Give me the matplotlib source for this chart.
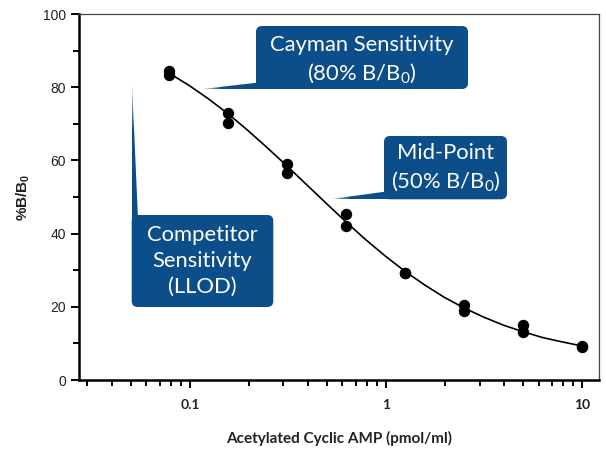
import numpy as np
import matplotlib
matplotlib.use("Agg")
import matplotlib.pyplot as plt
from matplotlib.patches import Polygon, FancyBboxPatch, Rectangle
from matplotlib.ticker import FixedLocator, NullFormatter

plt.rcParams["font.family"] = ["Lato", "DejaVu Sans"]
plt.rcParams["mathtext.default"] = "regular"

# standard curve (pmol/ml) - duplicate wells
conc = [0.078, 0.078, 0.156, 0.156, 0.3125, 0.3125, 0.625, 0.625,
        1.25, 1.25, 2.5, 2.5, 5, 5, 10, 10]
pct_bound = [84.5, 83.4, 73.0, 70.2, 59.0, 56.6, 45.4, 42.2,
             29.3, 29.2, 20.5, 18.8, 15.0, 13.1, 9.4, 9.0]

# fitted curve (third-octave steps)
fit_conc = [0.078, 0.0983, 0.1238, 0.156, 0.1965, 0.2476, 0.3125, 0.3931,
            0.4953, 0.625, 0.7862, 0.9906, 1.25, 1.572, 1.981, 2.5,
            3.145, 3.962, 5, 6.29, 7.925, 10]
fit_pct = [83.9, 80.6, 76.9, 72.8, 68.3, 63.5, 58.5, 53.4,
           48.3, 43.2, 38.4, 33.9, 29.7, 26.0, 22.6, 19.7,
           17.2, 15.0, 13.2, 11.6, 10.4, 9.3]

y_ticks = [0, 20, 40, 60, 80, 100]
x_ticks = [0.1, 1, 10]
x_ticklabels = ["0.1", "1", "10"]

BLUE = "#0c4e8a"
W, H = 606, 449

fig = plt.figure(figsize=(W / 100, H / 100), dpi=100)
ax = fig.add_axes([79 / W, 1 - 380 / H, 520 / W, 366 / H])

ax.plot(fit_conc, fit_pct, color="black", lw=1.2, zorder=3)
ax.plot(conc, pct_bound, "o", color="black", ms=7.2, zorder=4)

ax.set_xscale("log")
ax.set_xlim(0.0272, 12.2)
ax.set_ylim(0, 100)

ax.xaxis.set_major_locator(FixedLocator(x_ticks))
ax.set_xticklabels(x_ticklabels)
minor = [m * d for d in (0.01, 0.1, 1) for m in range(2, 10) if 0.029 < m * d < 10]
ax.xaxis.set_minor_locator(FixedLocator(minor))
ax.xaxis.set_minor_formatter(NullFormatter())
ax.set_yticks(y_ticks)
ax.set_yticks([10, 30, 50, 70, 90], minor=True)

for side in ("left", "bottom"):
    ax.spines[side].set_linewidth(1.8)
    ax.spines[side].set_color("black")
for side in ("top", "right"):
    ax.spines[side].set_linewidth(0.9)
    ax.spines[side].set_color("#444444")

ax.tick_params(which="major", length=6, width=1.4, color="black")
ax.tick_params(which="minor", length=4, width=1.4, color="black")
ax.tick_params(axis="x", which="major", pad=8)
for lab in ax.get_xticklabels():
    lab.set_fontweight("bold")
    lab.set_fontsize(10)
    lab.set_color("#222222")
for lab in ax.get_yticklabels():
    lab.set_family("Liberation Sans")
    lab.set_fontsize(10)
    lab.set_color("#222222")

ax.set_xlabel("Acetylated Cyclic AMP (pmol/ml)", fontsize=11,
              fontweight="bold", color="#222222", labelpad=14)
ax.set_ylabel("%B/B$_0$", fontsize=11, fontweight="bold",
              family="Liberation Sans", color="#222222", labelpad=8)

# callout overlay in pixel coordinates (y downwards)
ov = fig.add_axes([0, 0, 1, 1], zorder=5)
ov.set_autoscale_on(False)
ov.set_xlim(0, W)
ov.set_ylim(H, 0)
ov.axis("off")

rgb = np.array(matplotlib.colors.to_rgb(BLUE))


def gradient_wedge(pts, horizontal):
    poly = Polygon(pts, closed=True, facecolor="none", edgecolor="none")
    ov.add_patch(poly)
    xs = [p[0] for p in pts]
    ys = [p[1] for p in pts]
    n = 200
    alpha = np.clip(0.15 + np.linspace(0, 1, n) * 2.2, 0, 1)
    img = np.zeros((1, n, 4)) if horizontal else np.zeros((n, 1, 4))
    img[..., :3] = rgb
    if horizontal:
        img[0, :, 3] = alpha
    else:
        img[:, 0, 3] = alpha
    im = ov.imshow(img, extent=(min(xs), max(xs), max(ys), min(ys)),
                   aspect="auto", interpolation="bilinear", zorder=1)
    im.set_clip_path(poly)


def box(x0, y0, x1, y1):
    ov.add_patch(FancyBboxPatch((x0 + 5, y0 + 5), x1 - x0 - 10, y1 - y0 - 10,
                                boxstyle="round,pad=5,rounding_size=6",
                                facecolor=BLUE, edgecolor="none", zorder=2))


TXT = dict(color="white", fontsize=15.8, ha="center", va="center", zorder=3)

# Cayman sensitivity
box(256, 26, 468, 89)
ov.add_patch(Rectangle((256, 76), 12, 13, facecolor=BLUE, edgecolor="none", zorder=2))
gradient_wedge([(200, 89.3), (257, 82.7), (257, 89.3)], horizontal=True)
ov.text(362, 45, "Cayman Sensitivity", **TXT)
ov.text(362, 73, "(80% B/B$_0$)", **TXT)

# mid-point
box(384, 136, 507, 199.3)
ov.add_patch(Rectangle((384, 186), 12, 13.3, facecolor=BLUE, edgecolor="none", zorder=2))
gradient_wedge([(329, 199.3), (385, 191.7), (385, 199.3)], horizontal=True)
ov.text(445.5, 153, "Mid-Point", **TXT)
ov.text(445.5, 181.5, "(50% B/B$_0$)", **TXT)

# competitor sensitivity
box(131.7, 215, 273.3, 307)
ov.add_patch(Rectangle((131.7, 215), 12, 12, facecolor=BLUE, edgecolor="none", zorder=2))
gradient_wedge([(131.7, 76), (137.9, 216), (131.7, 216)], horizontal=False)
for yy, txt in zip((235, 261, 287), ("Competitor", "Sensitivity", "(LLOD)")):
    ov.text(202.5, yy, txt, **TXT)

fig.savefig("out.png", dpi=100)
